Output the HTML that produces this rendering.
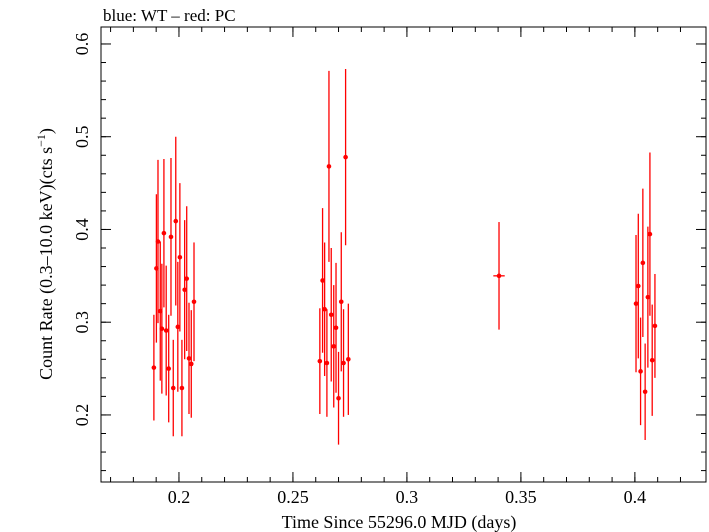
<!DOCTYPE html>
<html><head><meta charset="utf-8"><style>
html,body{margin:0;padding:0;background:#fff}
svg{display:block;font-family:"Liberation Serif",serif}
</style></head><body>
<svg id="chart" width="709" height="532" viewBox="0 0 709 532" xmlns="http://www.w3.org/2000/svg">
<text x="103" y="21" font-size="17">blue: WT – red: PC</text>
<rect x="101" y="27" width="605" height="455" fill="none" stroke="#000" stroke-width="1"/>
<g id="ticks"></g>
<g id="marks"></g>
<text x="399" y="528" font-size="18" text-anchor="middle">Time Since 55296.0 MJD (days)</text>
<text transform="translate(52,254) rotate(-90)" font-size="18" text-anchor="middle">Count Rate (0.3–10.0 keV)(cts s<tspan baseline-shift="super" font-size="12">−1</tspan>)</text>
</svg>
<script>
const xTicks=[0.2,0.25,0.3,0.35,0.4];
const xTickLabels=["0.2","0.25","0.3","0.35","0.4"];
const yTicks=[0.2,0.3,0.4,0.5,0.6];
const yTickLabels=["0.2","0.3","0.4","0.5","0.6"];
const times=[0.1890,0.1901,0.1908,0.1918,0.1925,0.1934,0.1944,0.1955,0.1965,0.1975,0.1986,0.1995,0.2004,0.2013,0.2025,0.2034,0.2044,0.2054,0.2066,
0.2618,0.2630,0.2639,0.2649,0.2658,0.2668,0.2679,0.2689,0.2700,0.2712,0.2722,0.2731,0.2743,
0.3404,
0.4005,0.4015,0.4025,0.4035,0.4045,0.4057,0.4066,0.4076,0.4088];
const rates=[0.251,0.358,0.387,0.312,0.293,0.396,0.291,0.250,0.392,0.229,0.409,0.295,0.370,0.229,0.335,0.347,0.261,0.255,0.322,
0.258,0.345,0.314,0.256,0.468,0.308,0.274,0.294,0.218,0.322,0.256,0.478,0.260,
0.350,
0.320,0.339,0.247,0.364,0.225,0.327,0.395,0.259,0.296];
const rateErrs=[0.057,0.080,0.088,0.075,0.070,0.080,0.070,0.058,0.085,0.052,0.091,0.070,0.080,0.052,0.075,0.078,0.060,0.058,0.064,
0.057,0.078,0.072,0.058,0.103,0.072,0.066,0.070,0.050,0.075,0.058,0.095,0.060,
0.058,
0.074,0.078,0.058,0.080,0.052,0.076,0.088,0.060,0.056];
const timeErrs=[0.0004,0.0004,0.0004,0.0004,0.0004,0.0004,0.0004,0.0004,0.0004,0.0004,0.0004,0.0004,0.0004,0.0004,0.0004,0.0004,0.0004,0.0004,0.0004,
0.0004,0.0004,0.0004,0.0004,0.0004,0.0004,0.0004,0.0004,0.0004,0.0004,0.0004,0.0004,0.0004,
0.0025,
0.0004,0.0004,0.0004,0.0004,0.0004,0.0004,0.0004,0.0004,0.0004];

const NS="http://www.w3.org/2000/svg";
const L=101,R=706,T=27,B=482;
const xMin=0.1658,xMax=0.4312,yMin=0.1277,yMax=0.6183;
function xs(v){return L+(v-xMin)/(xMax-xMin)*(R-L);}
function ys(v){return B-(v-yMin)/(yMax-yMin)*(B-T);}
function mk(tag,attrs,parent){const e=document.createElementNS(NS,tag);for(const k in attrs)e.setAttribute(k,attrs[k]);parent.appendChild(e);return e;}
const tg=document.getElementById('ticks');
// minor ticks
for(let v=0.17;v<=0.43;v+=0.01){const x=xs(v);
 let t=mk('line',{x1:x,x2:x,y1:B,y2:B-5,stroke:'#000'},tg);
 t=mk('line',{x1:x,x2:x,y1:T,y2:T+5,stroke:'#000'},tg);}
for(let v=0.14;v<=0.62;v+=0.02){const y=ys(v);if(y<T||y>B)continue;
 let t=mk('line',{x1:L,x2:L+5,y1:y,y2:y,stroke:'#000'},tg);
 t=mk('line',{x1:R,x2:R-5,y1:y,y2:y,stroke:'#000'},tg);}
xTicks.forEach((v,i)=>{const x=xs(v);
 let t=mk('line',{x1:x,x2:x,y1:B,y2:B-10,stroke:'#000'},tg);
 t=mk('line',{x1:x,x2:x,y1:T,y2:T+10,stroke:'#000'},tg);
 const tx=mk('text',{x:x,y:503,'font-size':18,'text-anchor':'middle'},tg);tx.textContent=xTickLabels[i];
 });
yTicks.forEach((v,i)=>{const y=ys(v);
 let t=mk('line',{x1:L,x2:L+10,y1:y,y2:y,stroke:'#000'},tg);
 t=mk('line',{x1:R,x2:R-10,y1:y,y2:y,stroke:'#000'},tg);
 const tx=mk('text',{transform:`translate(88,${y}) rotate(-90)`,'font-size':18,'text-anchor':'middle'},tg);tx.textContent=yTickLabels[i];
 });
const mg=document.getElementById('marks');
times.forEach((t,i)=>{const x=xs(t),y=ys(rates[i]);
 const g=mk('g',{},mg);
 mk('line',{x1:x,x2:x,y1:ys(rates[i]+rateErrs[i]),y2:ys(rates[i]-rateErrs[i]),stroke:'#f00','stroke-width':1.3},g);
 mk('line',{x1:xs(t-timeErrs[i]),x2:xs(t+timeErrs[i]),y1:y,y2:y,stroke:'#f00','stroke-width':1.3},g);
 mk('circle',{cx:x,cy:y,r:2.3,fill:'#f00'},g);});
</script>
</body></html>
